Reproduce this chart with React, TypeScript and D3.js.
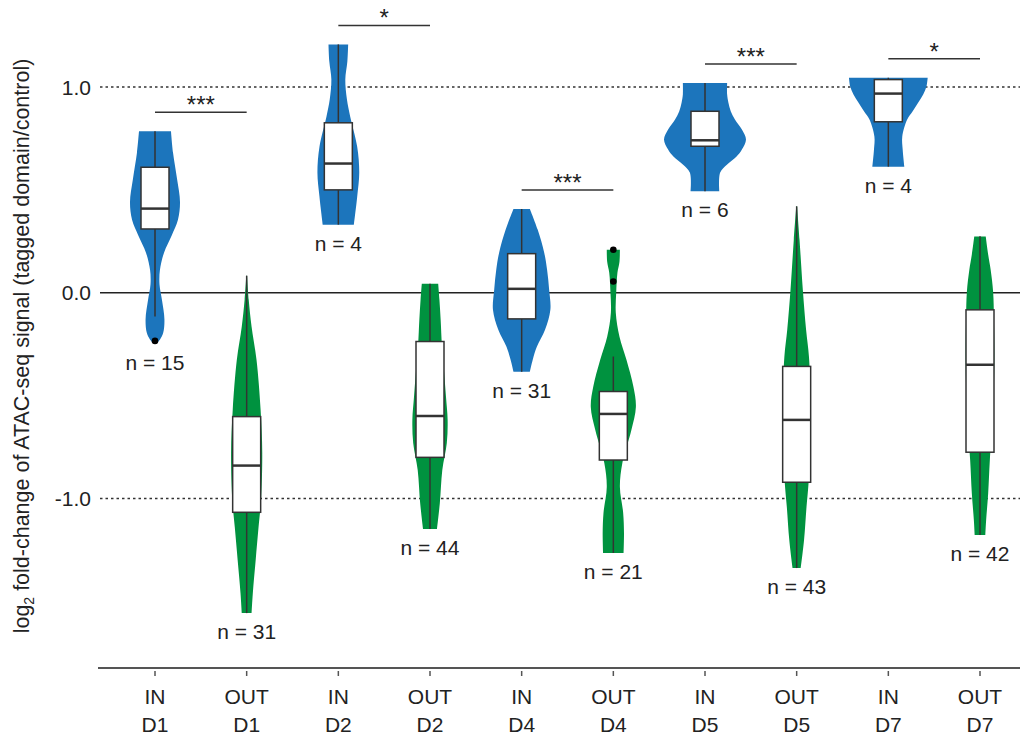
import React from 'react';
import * as d3 from 'd3';

const categories = ['IN D1', 'OUT D1', 'IN D2', 'OUT D2', 'IN D4', 'OUT D4', 'IN D5', 'OUT D5', 'IN D7', 'OUT D7'];
const counts = [15, 31, 4, 44, 31, 21, 6, 43, 4, 42];
const whiskerLow = [-0.115, -1.557, 0.331, -1.148, -0.384, -1.265, 0.493, -1.338, 0.613, -1.178];
const q1 = [0.31, -1.067, 0.5, -0.8, -0.127, -0.813, 0.712, -0.921, 0.831, -0.775];
const medians = [0.409, -0.84, 0.628, -0.599, 0.019, -0.589, 0.741, -0.618, 0.968, -0.35];
const q3 = [0.61, -0.602, 0.826, -0.237, 0.19, -0.48, 0.882, -0.358, 1.036, -0.083];
const whiskerHigh = [0.785, 0.083, 1.207, 0.044, 0.407, -0.31, 1.02, 0.42, 1.045, 0.274];
const outliers: number[][] = [[-0.234], [], [], [], [], [0.209, 0.055], [], [], [], []];

// density profiles: [value, relative density]
const densityInD1 = [[0.785, 0.39], [0.68, 0.44], [0.55, 0.54], [0.44, 0.61], [0.355, 0.56], [0.28, 0.41], [0.195, 0.22], [0.11, 0.12], [0.04, 0.11], [-0.035, 0.17], [-0.13, 0.23], [-0.195, 0.2], [-0.228, 0.12], [-0.247, 0.03]];
const densityOutD1 = [[0.083, 0.01], [-0.034, 0.05], [-0.165, 0.12], [-0.326, 0.24], [-0.569, 0.34], [-0.779, 0.38], [-1.007, 0.35], [-1.139, 0.29], [-1.299, 0.22], [-1.46, 0.15], [-1.557, 0.12]];
const densityInD2 = [[1.207, 0.24], [1.124, 0.22], [1.036, 0.17], [0.939, 0.21], [0.856, 0.29], [0.71, 0.46], [0.584, 0.51], [0.467, 0.46], [0.331, 0.38]];
const densityOutD2 = [[0.044, 0.2], [-0.034, 0.23], [-0.131, 0.26], [-0.253, 0.29], [-0.375, 0.34], [-0.506, 0.39], [-0.618, 0.43], [-0.73, 0.41], [-0.861, 0.3], [-1.022, 0.24], [-1.148, 0.17]];
const densityInD4 = [[0.407, 0.2], [0.307, 0.39], [0.195, 0.55], [0.112, 0.62], [0.015, 0.67], [-0.083, 0.7], [-0.18, 0.57], [-0.263, 0.37], [-0.326, 0.27], [-0.384, 0.2]];
const densityOutD4 = [[0.209, 0.16], [0.151, 0.15], [0.097, 0.1], [0.0, 0.07], [-0.097, 0.06], [-0.214, 0.15], [-0.326, 0.32], [-0.457, 0.49], [-0.555, 0.55], [-0.667, 0.44], [-0.827, 0.22], [-0.944, 0.16], [-1.07, 0.24], [-1.168, 0.26], [-1.265, 0.25]];
const densityInD5 = [[1.02, 0.54], [0.963, 0.54], [0.925, 0.57], [0.881, 0.63], [0.842, 0.73], [0.793, 0.9], [0.745, 1.0], [0.696, 0.9], [0.662, 0.77], [0.623, 0.54], [0.584, 0.37], [0.493, 0.35]];
const densityOutD5 = [[0.42, 0.01], [0.258, 0.07], [0.015, 0.15], [-0.18, 0.23], [-0.311, 0.3], [-0.52, 0.34], [-0.715, 0.34], [-0.925, 0.29], [-1.041, 0.24], [-1.202, 0.18], [-1.338, 0.1]];
const densityInD7 = [[1.045, 0.96], [1.002, 0.93], [0.963, 0.85], [0.925, 0.73], [0.881, 0.59], [0.842, 0.46], [0.759, 0.34], [0.696, 0.35], [0.613, 0.39]];
const densityOutD7 = [[0.274, 0.14], [0.185, 0.2], [0.112, 0.26], [0.005, 0.32], [-0.131, 0.34], [-0.326, 0.35], [-0.569, 0.32], [-0.813, 0.24], [-0.973, 0.2], [-1.105, 0.15], [-1.178, 0.13]];
const profiles = [densityInD1, densityOutD1, densityInD2, densityOutD2, densityInD4, densityOutD4, densityInD5, densityOutD5, densityInD7, densityOutD7];

const sigPairs = [['IN D1', 'OUT D1'], ['IN D2', 'OUT D2'], ['IN D4', 'OUT D4'], ['IN D5', 'OUT D5'], ['IN D7', 'OUT D7']];
const sigLabels = ['***', '*', '***', '***', '*'];

const yTicks = [1, 0, -1];
const yTickLabels = ['1.0', '0.0', '-1.0'];

const BLUE = '#1c75bc';
const GREEN = '#00923f';
const INK = '#333333';
const FONT = 'Liberation Sans, Arial, Helvetica, sans-serif';

export default function App() {
  const x = d3.scalePoint<string>().domain(categories).range([155, 980]);
  const y = d3.scaleLinear().domain([-1, 1]).range([498.5, 87]);
  const w = d3.scaleLinear().domain([0, 1]).range([0, 41]);
  const boxHalf = 14;
  const fs = 21;

  return (
    <svg width={1022} height={735} style={{ position: 'absolute', left: 0, top: 0, background: '#fff' }} fontFamily={FONT}>
      {/* reference lines */}
      {yTicks.map((t, i) => (
        <g key={'yt' + i}>
          <line x1={100} x2={1020} y1={y(t)} y2={y(t)} stroke={t === 0 ? '#222' : '#333'} strokeWidth={t === 0 ? 1.5 : 1.3}
            strokeDasharray={t === 0 ? undefined : '2.5,3'} />
          <text x={91} y={y(t)} dy="0.36em" textAnchor="end" fontSize={fs} fill="#222">{yTickLabels[i]}</text>
        </g>
      ))}

      {/* violins */}
      {categories.map((c, i) => {
        const cx = x(c)!;
        const area = d3.area<number[]>()
          .y(d => y(d[0]))
          .x0(d => cx - w(d[1]))
          .x1(d => cx + w(d[1]))
          .curve(d3.curveCatmullRom.alpha(0.5));
        return <path key={'v' + i} d={area(profiles[i] as number[][]) || ''} fill={c.startsWith('IN') ? BLUE : GREEN} />;
      })}

      {/* boxes */}
      {categories.map((c, i) => {
        const cx = x(c)!;
        return (
          <g key={'b' + i}>
            <line x1={cx} x2={cx} y1={y(whiskerHigh[i])} y2={y(q3[i])} stroke={INK} strokeWidth={1.5} />
            <line x1={cx} x2={cx} y1={y(q1[i])} y2={y(whiskerLow[i])} stroke={INK} strokeWidth={1.5} />
            <rect x={cx - boxHalf} width={boxHalf * 2} y={y(q3[i])} height={y(q1[i]) - y(q3[i])} fill="#fff" stroke={INK} strokeWidth={1.5} />
            <line x1={cx - boxHalf} x2={cx + boxHalf} y1={y(medians[i])} y2={y(medians[i])} stroke={INK} strokeWidth={2.5} />
            {outliers[i].map((o, k) => (
              <circle key={k} cx={cx} cy={y(o)} r={3.3} fill="#000" />
            ))}
            <text x={cx} y={y(profiles[i][profiles[i].length - 1][0]) + 26} textAnchor="middle" fontSize={fs} fill="#222">
              {'n = ' + counts[i]}
            </text>
          </g>
        );
      })}

      {/* significance */}
      {sigPairs.map((p, i) => {
        const a = categories.indexOf(p[0]);
        const b = categories.indexOf(p[1]);
        const top = Math.min(y(whiskerHigh[a]), y(whiskerHigh[b]), y(d3.max(outliers[a].concat(outliers[b])) ?? -10));
        const ly = top - 19;
        return (
          <g key={'s' + i}>
            <line x1={x(p[0])!} x2={x(p[1])!} y1={ly} y2={ly} stroke={INK} strokeWidth={1.5} />
            <text x={(x(p[0])! + x(p[1])!) / 2} y={ly + 1} textAnchor="middle" fontSize={24} fill="#222">{sigLabels[i]}</text>
          </g>
        );
      })}

      {/* x axis */}
      <line x1={98} x2={1020} y1={668} y2={668} stroke="#555" strokeWidth={2} />
      {categories.map((c, i) => {
        const cx = x(c)!;
        const [a, b] = c.split(' ');
        return (
          <g key={'x' + i}>
            <line x1={cx} x2={cx} y1={671} y2={676} stroke="#555" strokeWidth={1.5} />
            <text x={cx} y={704} textAnchor="middle" fontSize={fs} fill="#222">{a}</text>
            <text x={cx} y={732} textAnchor="middle" fontSize={fs} fill="#222">{b}</text>
          </g>
        );
      })}

      {/* y axis title */}
      <text transform="translate(29,346) rotate(-90)" textAnchor="middle" fontSize={21.5} fill="#222">
        <tspan>log</tspan>
        <tspan fontSize={14} dy={5}>2</tspan>
        <tspan dy={-5}> fold-change of ATAC-seq signal (tagged domain/control)</tspan>
      </text>
    </svg>
  );
}
